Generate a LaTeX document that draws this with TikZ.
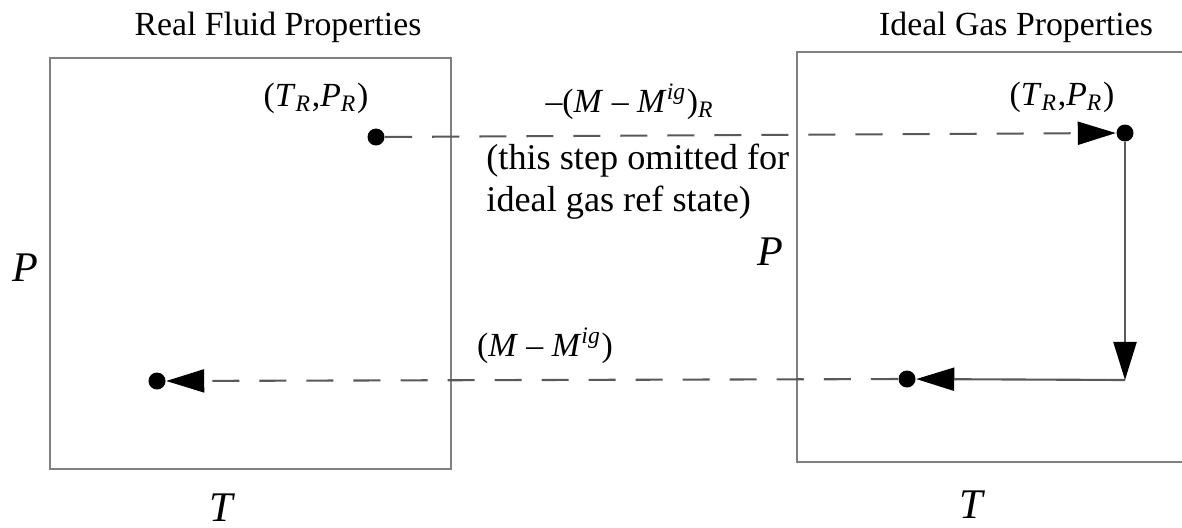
\documentclass[tikz,border=0pt]{standalone}
\usepackage{fontspec}
\setmainfont{Liberation Serif}
\usetikzlibrary{arrows.meta}
\newcommand{\vsub}[2]{\textit{#1}\textsubscript{\textit{#2}}}

\begin{document}
\begin{tikzpicture}[x=0.01cm,y=-0.01cm,>={Triangle[length=0.38cm,width=0.23cm,color=black]},
  font=\fontsize{9.6}{11}\selectfont,
  frame/.style={draw=black!50,line width=0.6pt},
  flow/.style={draw=black!65,line width=0.6pt},
  gap/.style={flow,dash pattern=on 0.27cm off 0.2cm},
  state/.style={circle,fill=black,inner sep=0pt,minimum size=0.17cm}]
  \clip (0,0) rectangle (1182,527);
  % the two property planes
  \draw[frame] (50,58) rectangle (451,469);
  \draw[frame] (797,52) rectangle (1240,462);
  \node at (278,27) {Real Fluid Properties};
  \node at (1016,27) {Ideal Gas Properties};
  \node at (25,268) {\large\textit{P}};
  \node at (222,508) {\large\textit{T}};
  \node at (770,252) {\large\textit{P}};
  \node at (972,505) {\large\textit{T}};
  % states
  \node[state] (rf1) at (376,137) {};
  \node[state] (ig1) at (1125,133) {};
  \coordinate (bend) at (1125,380);
  \node[state] (ig2) at (907,379) {};
  \node[state] (rf2) at (157,381) {};
  \node at (316,98) {(\vsub{T}{R},\vsub{P}{R})};
  \node at (1062,97) {(\vsub{T}{R},\vsub{P}{R})};
  % paths
  \draw[gap,->] (rf1) -- (ig1);
  \draw[flow,->] (ig1) -- (bend);
  \draw[flow,->] (bend) -- (ig2);
  \draw[gap,->] (ig2) -- (rf2);
  \node at (630,102) {–(\textit{M} – \textit{M}\textsuperscript{\textit{ig}})\textsubscript{\textit{R}}};
  \node[anchor=west,align=left,font=\fontsize{10.3}{12}\selectfont] at (474,182) {(this step omitted for\\ideal gas ref state)};
  \node at (545,346) {(\textit{M} – \textit{M}\textsuperscript{\textit{ig}})};
\end{tikzpicture}
\end{document}
